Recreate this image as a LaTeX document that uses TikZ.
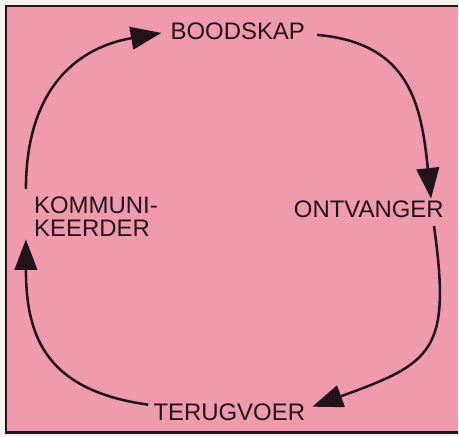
\documentclass[tikz,border=0pt]{standalone}
\usepackage{fontspec}
\setmainfont{Liberation Sans}
\usepackage{tikz}
\usetikzlibrary{arrows.meta,calc}
\definecolor{cardpink}{RGB}{240,154,174}
\definecolor{inkdark}{RGB}{34,20,26}
\definecolor{paperwhite}{RGB}{246,242,240}

\begin{document}
\begin{tikzpicture}[x=0.75pt, y=0.75pt,
    every node/.style={font=\fontsize{18}{17.25}\selectfont, text=inkdark, inner sep=0pt},
    flow/.style={line width=1.9pt, draw=inkdark, -{Triangle[length=23pt,width=17pt]}}]
  % card and frame
  \fill[paperwhite] (0,0) rectangle (459,438);
  \fill[cardpink] (6,4) rectangle (459,432);
  \draw[inkdark, line width=2.2pt] (459,432) -- (6,432) -- (6,4) -- (459,4);
  % the four stations
  \node (boodskap) at (238.5,407) {BOODSKAP};
  \node (ontvanger) at (370,228) {ONTVANGER};
  \node (terugvoer) at (230,24) {TERUGVOER};
  \node[anchor=west, align=left] (kom) at (34,221) {KOMMUNI-\\KEERDER};
  % the cycle
  \draw[flow] ($(kom.north west)+(-8,7)$) to[out=90, in=190, looseness=1.15] ($(boodskap.west)+(-9,-2)$);
  \draw[flow] ($(boodskap.east)+(12,-4)$) to[out=-5, in=96, looseness=1.2] ($(ontvanger.north east)+(-13,2)$);
  \draw[flow] ($(ontvanger.south east)+(-10,-8)$) to[out=-82, in=20, looseness=1.5] ($(terugvoer.east)+(7,6)$);
  \draw[flow] ($(terugvoer.west)+(-5,8)$) to[out=172, in=-90, looseness=1.25] ($(kom.south west)+(-8,-3)$);
\end{tikzpicture}
\end{document}
